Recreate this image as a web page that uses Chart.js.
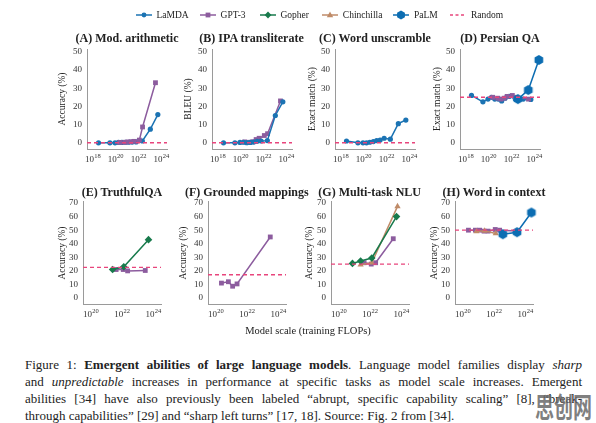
<!DOCTYPE html>
<html><head><meta charset="utf-8">
<script src="https://cdn.jsdelivr.net/npm/chart.js@4.4.1/dist/chart.umd.min.js"></script>
<style>
body{margin:0;width:596px;height:423px;background:#fff;position:relative;overflow:hidden;font-family:"Liberation Serif",serif;color:#222}
.pt{position:absolute;font-weight:bold;font-size:12px;white-space:nowrap;transform:translate(-50%,-50%)}
.yl{position:absolute;font-size:9.5px;white-space:nowrap;transform:translate(-50%,-50%) rotate(-90deg)}
.lg{position:absolute;font-size:9.5px;white-space:nowrap;display:flex;align-items:center}
.cap{position:absolute;left:25px;font-size:13px;white-space:nowrap;line-height:17px}
.xl{position:absolute;font-size:10.5px;white-space:nowrap;transform:translate(-50%,-50%)}
.wm{position:absolute;font-family:"Noto Sans CJK SC",sans-serif;font-weight:bold;font-size:19px;line-height:19px;color:rgba(105,105,105,0.85);white-space:nowrap;transform-origin:0 0;transform:scaleY(1.5)}
</style></head><body>
<script>
// ---------------- DATA ----------------
const seriesNames = ['LaMDA','GPT-3','Gopher','Chinchilla','PaLM','Random'];
const lamdaFlops = [3.2e18, 3.2e19, 8.9e19, 1.8e20, 3.5e20, 7.1e20, 1.4e21, 2.8e21, 6.3e21, 2.2e22, 1.1e23, 5.0e23];
const gpt3Flops = [2.3e20, 6.4e20, 1.2e21, 2.3e21, 4.2e21, 1.2e22, 2.3e22, 3.1e23];
const gpt3FlopsLarge = [4.2e21, 1.2e22, 2.3e22, 3.1e23];
const gpt3FlopsSmall = [2.3e20, 6.4e20, 1.2e21, 2.3e21, 3.1e23];
const gopherFlops = [7.5e20, 2.5e21, 1.3e22, 5.0e23];
const gopherFlopsTQA = [2.5e21, 1.3e22, 5.0e23];
const chinchillaFlopsMMLU = [2.5e21, 1.3e22, 5.8e23];
const chinchillaFlopsWiC = [7.5e20, 2.5e21, 1.3e22];
const palmFlops = [3.7e22, 3.0e23, 2.5e24];

const panelTitles = ['(A) Mod. arithmetic','(B) IPA transliterate','(C) Word unscramble','(D) Persian QA',
                     '(E) TruthfulQA','(F) Grounded mappings','(G) Multi-task NLU','(H) Word in context'];
const yAxisTitles = ['Accuracy (%)','BLEU (%)','Exact match (%)','Exact match (%)',
                     'Accuracy (%)','Accuracy (%)','Accuracy (%)','Accuracy (%)'];
const randomBaseline = [0, 0, 0, 25, 22.6, 17.2, 25, 50];

// (A) Modular arithmetic
const modArithLamda = [0, 0, 0, 0.2, 0.2, 0.3, 0.3, 0.4, 0.5, 1.0, 7.5, 15.5];
const modArithGpt3  = [0.2, 0.3, 0.5, 0.6, 0.8, 1.5, 8.7, 33];
// (B) IPA transliterate
const ipaLamda = [0, 0, 0.2, 0.3, 0.1, 0.2, 0.4, 0.8, 1.0, 1.2, 15, 22.5];
const ipaGpt3  = [0.5, 0.3, 0.6, 1.8, 2.5, 4.0, 5.0, 23];
// (C) Word unscramble
const unscrambleLamda = [1, 0, 0, 0, 0.3, 0.7, 1.2, 1.5, 2.5, 2, 10.5, 12.5];
// (D) Persian QA
const persianLamda = [26, 22.5, 24, 25, 24, 24, 23, 24.5, 25.5, 24, 24, 23.8];
const persianGpt3  = [25, 24.5, 24, 24.5, 25.5, 26, 25, 24];
const persianPalm  = [24, 29, 45.5];
// (E) TruthfulQA
const truthGopher = [21, 23, 43];
const truthGpt3   = [21, 21, 20, 20.3];
// (F) Grounded mappings
const groundGpt3 = [11, 12, 8.7, 10.4, 45];
// (G) Multi-task NLU
const mmluGopher     = [25.5, 27.3, 29.5, 60];
const mmluChinchilla = [24.5, 26, 67.5];
const mmluGpt3       = [26, 25, 26, 43.7];
// (H) Word in context
const wicGpt3       = [50, 50, 50, 49.3, 49.3, 50.5, 50, 49.3];
const wicChinchilla = [49, 49.5, 47.5];
const wicPalm       = [47, 48.5, 63];

// tick labels (base 10, exponent)
const xTicksRow1 = [1e18, 1e20, 1e22, 1e24];
const xTickExpRow1 = ['18', '20', '22', '24'];
const xTicksRow2 = [1e20, 1e22, 1e24];
const xTickExpRow2 = ['20', '22', '24'];
const yTicksRow1 = [0, 10, 20, 30, 40, 50];
const yTicksRow2 = [0, 10, 20, 30, 40, 50, 60, 70];

// ---------------- STYLE ----------------
const COLORS = {LaMDA:'#1b73b3', 'GPT-3':'#8c5c9e', Gopher:'#187a4c', Chinchilla:'#bf8b68', PaLM:'#0c6db2', Random:'#e8457c'};
function hexImg(r, color){
  const s = Math.ceil(2*r+2), c = document.createElement('canvas'); c.width = s; c.height = s;
  const g = c.getContext('2d'); g.beginPath();
  for(let i=0;i<6;i++){const a=-Math.PI/2+i*Math.PI/3; const px=s/2+r*Math.cos(a), py=s/2+r*Math.sin(a); i?g.lineTo(px,py):g.moveTo(px,py);}
  g.closePath(); g.fillStyle=color; g.fill(); return c;
}
const STY = {
  LaMDA:{style:'circle', r:2.6},
  'GPT-3':{style:'rect', r:3.4},
  Gopher:{style:'rectRot', r:3.8},
  Chinchilla:{style:'triangle', r:3.6},
  PaLM:{style:hexImg(5, COLORS.PaLM), r:5}
};
function ds(name, xs, ys){
  return {label:name, data:xs.map((x,i)=>({x:x, y:ys[i]})), borderColor:COLORS[name], backgroundColor:COLORS[name],
    borderWidth:1.5, pointStyle:STY[name].style, pointRadius:STY[name].r, pointBorderWidth:0, clip:false, tension:0};
}
const FONTNAME = 'Liberation Serif';
const randomLine = {id:'randomLine', afterDatasetsDraw(chart, args, opts){
  if(opts.value==null) return;
  const y = chart.scales.y.getPixelForValue(opts.value), a = chart.chartArea, c = chart.ctx;
  c.save(); c.setLineDash([4,3]); c.strokeStyle = COLORS.Random; c.lineWidth = 1.4;
  c.beginPath(); c.moveTo(a.left, y); c.lineTo(a.right, y); c.stroke(); c.restore();
}};
// power-of-ten tick labels with a real superscript
const powLabels = {id:'powLabels', afterDraw(chart, args, opts){
  const sx = chart.scales.x, c = chart.ctx, base = chart.chartArea.bottom + 13;
  c.save(); c.fillStyle = '#333'; c.textBaseline = 'alphabetic';
  opts.ticks.forEach((v, i) => {
    const px = sx.getPixelForValue(v);
    c.font = `9px '${FONTNAME}'`; const w1 = c.measureText('10').width;
    c.font = `6.5px '${FONTNAME}'`; const w2 = c.measureText(opts.exps[i]).width;
    const x0 = px - (w1 + w2) / 2;
    c.font = `9px '${FONTNAME}'`; c.fillText('10', x0, base);
    c.font = `6.5px '${FONTNAME}'`; c.fillText(opts.exps[i], x0 + w1 + 0.3, base - 3.8);
  });
  c.restore();
}};

const R1 = {T:49, B:149, xmin:Math.pow(10,17.5), xmax:Math.pow(10,24.5), ymin:-3.4, ymax:51.3, xt:xTicksRow1, xe:xTickExpRow1, yt:yTicksRow1};
const R2 = {T:201.7, B:305, xmin:Math.pow(10,19.5), xmax:Math.pow(10,24.5), ymin:-4.4, ymax:71.2, xt:xTicksRow2, xe:xTickExpRow2, yt:yTicksRow2};
const panels = [
  {row:R1, L:87, R:167, yoff:25, ds:[ds('GPT-3',gpt3Flops,modArithGpt3), ds('LaMDA',lamdaFlops,modArithLamda)]},
  {row:R1, L:211.5, R:291.5, yoff:24, ds:[ds('LaMDA',lamdaFlops,ipaLamda), ds('GPT-3',gpt3Flops,ipaGpt3)]},
  {row:R1, L:335, R:415, yoff:23, ds:[ds('LaMDA',lamdaFlops,unscrambleLamda)]},
  {row:R1, L:460, R:540, yoff:23, ds:[ds('PaLM',palmFlops,persianPalm), ds('GPT-3',gpt3Flops,persianGpt3), ds('LaMDA',lamdaFlops,persianLamda)]},
  {row:R2, L:83, R:161, yoff:21, ds:[ds('Gopher',gopherFlopsTQA,truthGopher), ds('GPT-3',gpt3FlopsLarge,truthGpt3)]},
  {row:R2, L:207.8, R:285.8, yoff:25, ds:[ds('GPT-3',gpt3FlopsSmall,groundGpt3)]},
  {row:R2, L:330.7, R:408.7, yoff:22, ds:[ds('Gopher',gopherFlops,mmluGopher), ds('Chinchilla',chinchillaFlopsMMLU,mmluChinchilla), ds('GPT-3',gpt3FlopsLarge,mmluGpt3)]},
  {row:R2, L:455, R:533, yoff:21, ds:[ds('PaLM',palmFlops,wicPalm), ds('Chinchilla',chinchillaFlopsWiC,wicChinchilla), ds('GPT-3',gpt3Flops,wicGpt3)]}
];

const FONT = `'${FONTNAME}', serif`;
panels.forEach((p, k) => {
  const r = p.row, padL = 34, padR = 12, padT = 10, padB = 22;
  const W = Math.round(p.R - p.L + padL + padR), H = Math.round(r.B - r.T + padT + padB);
  const cv = document.createElement('canvas'); cv.width = W; cv.height = H;
  cv.style.cssText = `position:absolute;left:${p.L-padL}px;top:${r.T-padT}px;width:${W}px;height:${H}px`;
  document.body.appendChild(cv);
  const chart = new Chart(cv, {type:'line', data:{datasets:p.ds}, plugins:[randomLine, powLabels], options:{
    responsive:false, animation:false, devicePixelRatio:1,
    layout:{padding:{top:padT, right:padR, left:0, bottom:0}},
    plugins:{legend:{display:false}, tooltip:{enabled:false}, randomLine:{value:randomBaseline[k]}, powLabels:{ticks:r.xt, exps:r.xe}},
    scales:{
      x:{type:'logarithmic', min:r.xmin, max:r.xmax,
         afterBuildTicks:s=>{s.ticks = r.xt.map(v=>({value:v}));},
         afterFit:s=>{s.height = padB;},
         grid:{display:false, drawTicks:false}, border:{display:true, color:'#9a9a9a', width:1},
         ticks:{display:false}},
      y:{type:'linear', min:r.ymin, max:r.ymax,
         afterBuildTicks:s=>{s.ticks = r.yt.map(v=>({value:v}));},
         afterFit:s=>{s.width = padL;},
         grid:{display:false, drawTicks:false}, border:{display:true, color:'#9a9a9a', width:1},
         ticks:{padding:5, color:'#333', font:{family:FONT, size:9}}}
    }}});
  const a = chart.chartArea;
  cv.style.left = (p.L - a.left) + 'px';
  cv.style.top = (r.T - a.top) + 'px';
  const t = document.createElement('div'); t.className = 'pt'; t.textContent = panelTitles[k];
  t.style.left = ((p.L + p.R)/2) + 'px'; t.style.top = (r === R1 ? 38.3 : 192.3) + 'px'; document.body.appendChild(t);
  const yl = document.createElement('div'); yl.className = 'yl'; yl.textContent = yAxisTitles[k];
  yl.style.left = (p.L - p.yoff) + 'px'; yl.style.top = ((r.T + r.B)/2) + 'px'; document.body.appendChild(yl);
});

// legend
const legendX = [135.5, 199.6, 259.5, 321.8, 393, 450];
seriesNames.forEach((n, i) => {
  const d = document.createElement('div'); d.className = 'lg';
  d.style.left = legendX[i] + 'px'; d.style.top = '8px'; d.style.height = '13px';
  let marker = '';
  const c = COLORS[n];
  if (n === 'LaMDA') marker = `<circle cx="8" cy="6" r="2.4" fill="${c}"/>`;
  if (n === 'GPT-3') marker = `<rect x="5.6" y="3.6" width="4.8" height="4.8" fill="${c}"/>`;
  if (n === 'Gopher') marker = `<polygon points="8,2.4 11.4,6 8,9.6 4.6,6" fill="${c}"/>`;
  if (n === 'Chinchilla') marker = `<polygon points="8,2.6 11.2,8.2 4.8,8.2" fill="${c}"/>`;
  if (n === 'PaLM') marker = `<polygon points="8,1.5 11.9,3.75 11.9,8.25 8,10.5 4.1,8.25 4.1,3.75" fill="${c}"/>`;
  const line = n === 'Random'
    ? `<line x1="0" y1="6" x2="16" y2="6" stroke="${c}" stroke-width="1.4" stroke-dasharray="3,2.5"/>`
    : `<line x1="0" y1="6" x2="16" y2="6" stroke="${c}" stroke-width="1.5"/>`;
  d.innerHTML = `<svg width="16" height="12" style="margin-right:5px">${line}${marker}</svg><span>${n}</span>`;
  document.body.appendChild(d);
});

const xl = document.createElement('div'); xl.className = 'xl'; xl.textContent = 'Model scale (training FLOPs)';
xl.style.left = '308px'; xl.style.top = '330px'; document.body.appendChild(xl);

const capLines = [
  'Figure 1: <b>Emergent abilities of large language models</b>. Language model families display <i>sharp</i>',
  'and <i>unpredictable</i> increases in performance at specific tasks as model scale increases. Emergent',
  'abilities [34] have also previously been labeled “abrupt, specific capability scaling” [8], “break-',
  'through capabilities” [29] and “sharp left turns” [17, 18]. Source: Fig. 2 from [34].'
];
const capTops = [356, 373, 390, 407];
capLines.forEach((h, i) => {
  const d = document.createElement('div'); d.className = 'cap'; d.innerHTML = h; d.style.top = capTops[i] + 'px';
  document.body.appendChild(d);
  if (i < 3) {
    const target = 557, nat = d.getBoundingClientRect().width, spaces = (d.textContent.match(/ /g) || []).length;
    d.style.wordSpacing = ((target - nat) / spaces) + 'px';
  }
});
const wm = document.createElement('div'); wm.className = 'wm'; wm.textContent = '思创网';
wm.style.left = '535px'; wm.style.top = '391px'; document.body.appendChild(wm);
</script>
</body></html>
